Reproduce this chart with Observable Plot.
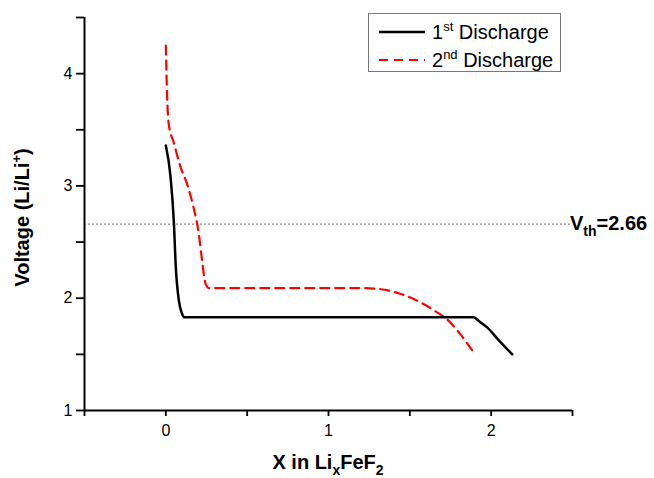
<!DOCTYPE html>
<html><head><meta charset="utf-8">
<script src="https://cdn.jsdelivr.net/npm/d3@7"></script>
<script src="https://cdn.jsdelivr.net/npm/@observablehq/plot@0.6"></script>
<style>
body{margin:0;background:#fff;}
svg{font-family:"Liberation Sans",Arial,sans-serif;}
g[aria-label$="tick label"] text{font-size:16px !important;}
</style>
</head><body><div id="chart"></div>
<script>
// 1st discharge
const x1 = [0, 0.029, 0.05, 0.06, 0.08, 0.10, 0.115, 0.6, 1.2, 1.89, 1.93, 1.975, 2.05, 2.13];
const v1 = [3.36, 3.08, 2.66, 2.31, 1.98, 1.86, 1.83, 1.83, 1.83, 1.83, 1.79, 1.74, 1.62, 1.50];
// 2nd discharge
const x2 = [0, 0.008, 0.018, 0.05, 0.09, 0.13, 0.17, 0.20, 0.22, 0.244, 0.265, 0.6, 1.0, 1.2, 1.32, 1.44, 1.57, 1.65, 1.73, 1.81, 1.90];
const v2 = [4.25, 3.79, 3.55, 3.38, 3.17, 3.02, 2.81, 2.60, 2.37, 2.13, 2.09, 2.09, 2.09, 2.09, 2.08, 2.04, 1.96, 1.89, 1.81, 1.68, 1.50];
const xTicks = [-0.5, 0, 0.5, 1, 1.5, 2, 2.5];
const yTicks = [1, 1.5, 2, 2.5, 3, 3.5, 4, 4.5];
const vth = 2.66;
const seriesNames = ["1st Discharge", "2nd Discharge"];

const d1 = x1.map((x, i) => ({x, v: v1[i]}));
const d2 = x2.map((x, i) => ({x, v: v2[i]}));
const intLabel = d => Number.isInteger(d) ? String(d) : "";

const plot = Plot.plot({
  width: 654, height: 478,
  marginLeft: 84, marginRight: 82, marginTop: 17, marginBottom: 68,
  x: {domain: [-0.5, 2.5]},
  y: {domain: [1, 4.5]},
  style: {fontFamily: '"Liberation Sans", Arial, sans-serif', fontSize: "16px", color: "#000", background: "#fff", overflow: "visible"},
  marks: [
    Plot.ruleY([vth], {stroke: "#888", strokeWidth: 1.2, strokeDasharray: "2,2"}),
    Plot.line(d2, {x: "x", y: "v", stroke: "#ff0000", strokeWidth: 2.2, strokeDasharray: "9,6", curve: "monotone-x"}),
    Plot.line(d1, {x: "x", y: "v", stroke: "#000", strokeWidth: 2.5, curve: "monotone-x"}),
    Plot.axisX({ticks: xTicks, tickFormat: intLabel, tickSize: 6, tickPadding: 8, label: null, strokeWidth: 1.8}),
    Plot.axisY({ticks: yTicks, tickFormat: intLabel, tickSize: 8, tickPadding: 4, label: null, strokeWidth: 1.8}),
    Plot.ruleX([-0.5], {stroke: "#000", strokeWidth: 2}),
    Plot.ruleY([1], {stroke: "#000", strokeWidth: 2})
  ]
});
document.getElementById("chart").appendChild(plot);

const svg = d3.select(plot);
const sx = plot.scale("x"), sy = plot.scale("y");
const font = '"Liberation Sans", Arial, sans-serif';

// y axis label
const yl = svg.append("text").attr("transform", `translate(29,${(sy.apply(1)+sy.apply(4.5))/2 + 4}) rotate(-90)`)
  .attr("text-anchor", "middle").attr("font-family", font).attr("font-size", 20).attr("font-weight", "bold").attr("fill", "#000");
yl.append("tspan").text("Voltage (Li/Li");
yl.append("tspan").attr("font-size", 13).attr("dy", -8).text("+");
yl.append("tspan").attr("dy", 8).text(")");

// x axis label
const xl = svg.append("text").attr("x", (sx.apply(-0.5)+sx.apply(2.5))/2).attr("y", 469)
  .attr("text-anchor", "middle").attr("font-family", font).attr("font-size", 20).attr("font-weight", "bold").attr("fill", "#000");
xl.append("tspan").text("X in Li");
xl.append("tspan").attr("font-size", 14).attr("dy", 6).text("x");
xl.append("tspan").attr("dy", -6).text("FeF");
xl.append("tspan").attr("font-size", 14).attr("dy", 6).text("2");

// threshold label
const vl = svg.append("text").attr("x", sx.apply(2.5) - 2).attr("y", sy.apply(vth) + 6)
  .attr("text-anchor", "start").attr("font-family", font).attr("font-size", 20).attr("font-weight", "bold").attr("fill", "#000");
vl.append("tspan").text("V");
vl.append("tspan").attr("font-size", 14).attr("dy", 6).text("th");
vl.append("tspan").attr("dy", -6).text("=" + vth.toFixed(2));

// legend
const lg = svg.append("g").attr("font-family", font).attr("font-size", 20).attr("fill", "#000").attr("text-anchor", "start");
lg.append("rect").attr("x", 368.5).attr("y", 13.5).attr("width", 192).attr("height", 58)
  .attr("fill", "#fff").attr("stroke", "#777").attr("stroke-width", 1);
const rows = [
  {sup: "st", color: "#000", dash: null, y: 32},
  {sup: "nd", color: "#ff0000", dash: "9,6", y: 60}
];
rows.forEach((r, i) => {
  const ln = lg.append("line").attr("x1", 379).attr("x2", 425).attr("y1", r.y).attr("y2", r.y)
    .attr("stroke", r.color).attr("stroke-width", r.dash ? 2.2 : 2.5);
  if (r.dash) ln.attr("stroke-dasharray", r.dash);
  const t = lg.append("text").attr("x", 432).attr("y", r.y + 7).attr("text-anchor", "start");
  const name = seriesNames[i];
  t.append("tspan").text(name.slice(0, 1));
  t.append("tspan").attr("font-size", 13).attr("dy", -8).text(r.sup);
  t.append("tspan").attr("dy", 8).text(name.slice(3));
});
</script>
</body></html>
